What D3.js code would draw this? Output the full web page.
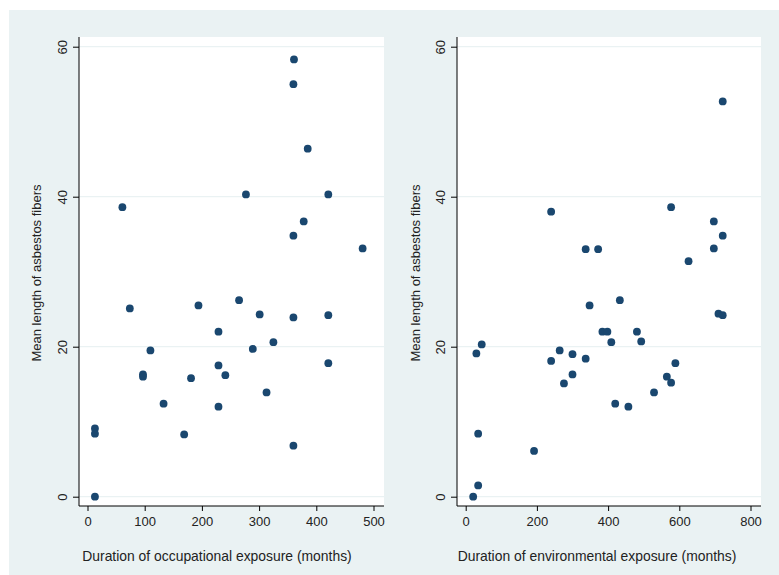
<!DOCTYPE html>
<html>
<head>
<meta charset="utf-8">
<script src="https://cdn.jsdelivr.net/npm/d3@7"></script>
<style>
  html, body { margin: 0; padding: 0; background: #ffffff; }
  svg { display: block; }
  text { font-family: "Liberation Sans", Arial, sans-serif; }
</style>
</head>
<body>
<svg id="chart" width="779" height="575"></svg>
<script>
// Occupational exposure (months) vs mean fiber length
const occMonths = [361, 360, 385, 277, 421, 61, 378, 360, 481,
  74, 194, 265, 301, 360, 421, 229, 325, 289, 110, 229, 421,
  97, 97, 241, 181, 313, 133, 229, 13, 13, 169, 360, 13];
const occLength = [58.3, 55.0, 46.4, 40.3, 40.3, 38.6, 36.7, 34.8, 33.1,
  25.1, 25.5, 26.2, 24.3, 23.9, 24.2, 22.0, 20.6, 19.7, 19.5, 17.5, 17.8,
  16.3, 16.0, 16.2, 15.8, 13.9, 12.4, 12.0, 9.1, 8.4, 8.3, 6.8, 0.0];

// Environmental exposure (months) vs mean fiber length
const envMonths = [722, 577, 240, 697, 722, 337, 372, 697, 626,
  348, 433, 710, 722, 384, 398, 481, 409, 493, 45, 30, 264, 300,
  337, 240, 589, 300, 565, 276, 577, 529, 420, 457, 35, 192, 35, 21];
const envLength = [52.7, 38.6, 38.0, 36.7, 34.8, 33.0, 33.0, 33.1, 31.4,
  25.5, 26.2, 24.4, 24.2, 22.0, 22.0, 22.0, 20.6, 20.7, 20.3, 19.1, 19.5, 19.0,
  18.4, 18.1, 17.8, 16.3, 16.0, 15.1, 15.2, 13.9, 12.4, 12.0, 8.4, 6.1, 1.5, 0.0];

const yTicks = [0, 20, 40, 60];
const occTicks = [0, 100, 200, 300, 400, 500];
const envTicks = [0, 200, 400, 600, 800];

const yTitle = "Mean length of asbestos fibers";
const occTitle = "Duration of occupational exposure (months)";
const envTitle = "Duration of environmental exposure (months)";

const svg = d3.select("#chart");
const bg = "#eaf2f3";
const ink = "#1a476f";

svg.append("rect").attr("x", 9).attr("y", 10).attr("width", 770).attr("height", 565).attr("fill", bg);

function panel(cfg) {
  const g = svg.append("g");
  const x = d3.scaleLinear().domain(cfg.xDomain).range(cfg.xRange);
  const y = d3.scaleLinear().domain([0, 60]).range([496.7, 46.7]);

  // plot region
  g.append("rect")
    .attr("x", cfg.left).attr("y", 37)
    .attr("width", cfg.right - cfg.left).attr("height", 506 - 37)
    .attr("fill", "#ffffff");

  // horizontal grid
  g.selectAll("line.grid").data(yTicks).join("line")
    .attr("class", "grid")
    .attr("x1", cfg.left).attr("x2", cfg.right)
    .attr("y1", d => y(d)).attr("y2", d => y(d))
    .attr("stroke", bg).attr("stroke-width", 1.2);

  // y axis
  const yAxis = d3.axisLeft(y).tickValues(yTicks).tickSize(6).tickPadding(5).tickFormat(d3.format("d"));
  const ya = g.append("g").attr("transform", `translate(${cfg.left},0)`).call(yAxis);
  ya.select(".domain").attr("d", `M0,37V506`).attr("stroke", "#000").attr("stroke-width", 1);
  ya.selectAll(".tick line").attr("stroke", "#000");
  ya.selectAll(".tick text")
    .attr("font-size", 13).attr("fill", "#222")
    .attr("x", null)
    .attr("text-anchor", "middle")
    .attr("transform", "translate(-12,0) rotate(-90)")
    .attr("dy", "0");

  // x axis
  const xAxis = d3.axisBottom(x).tickValues(cfg.xTicks).tickSize(5).tickPadding(6).tickFormat(d3.format("d"));
  const xa = g.append("g").attr("transform", "translate(0,506)").call(xAxis);
  xa.select(".domain").attr("d", `M${cfg.left},0H${cfg.right}`).attr("stroke", "#000").attr("stroke-width", 1);
  xa.selectAll(".tick line").attr("stroke", "#000");
  xa.selectAll(".tick text").attr("font-size", 13).attr("fill", "#222");

  // points
  g.selectAll("circle").data(cfg.xs.map((v, i) => [v, cfg.ys[i]])).join("circle")
    .attr("cx", d => x(d[0])).attr("cy", d => y(d[1]))
    .attr("r", 3.9).attr("fill", ink);

  // titles
  g.append("text")
    .attr("x", cfg.xTitleX).attr("y", 561)
    .attr("text-anchor", "middle").attr("font-size", 13.9).attr("fill", "#222")
    .text(cfg.xTitle);
  g.append("text")
    .attr("transform", `translate(${cfg.yTitleX},273) rotate(-90)`)
    .attr("text-anchor", "middle").attr("font-size", 13).attr("fill", "#222")
    .text(yTitle);
}

panel({
  left: 79, right: 384,
  xDomain: [0, 500], xRange: [87.5, 373.5],
  xTicks: occTicks, xs: occMonths, ys: occLength,
  xTitle: occTitle, xTitleX: 217, yTitleX: 41
});

panel({
  left: 457, right: 761,
  xDomain: [0, 800], xRange: [465.7, 750.5],
  xTicks: envTicks, xs: envMonths, ys: envLength,
  xTitle: envTitle, xTitleX: 597, yTitleX: 420
});
</script>
</body>
</html>
